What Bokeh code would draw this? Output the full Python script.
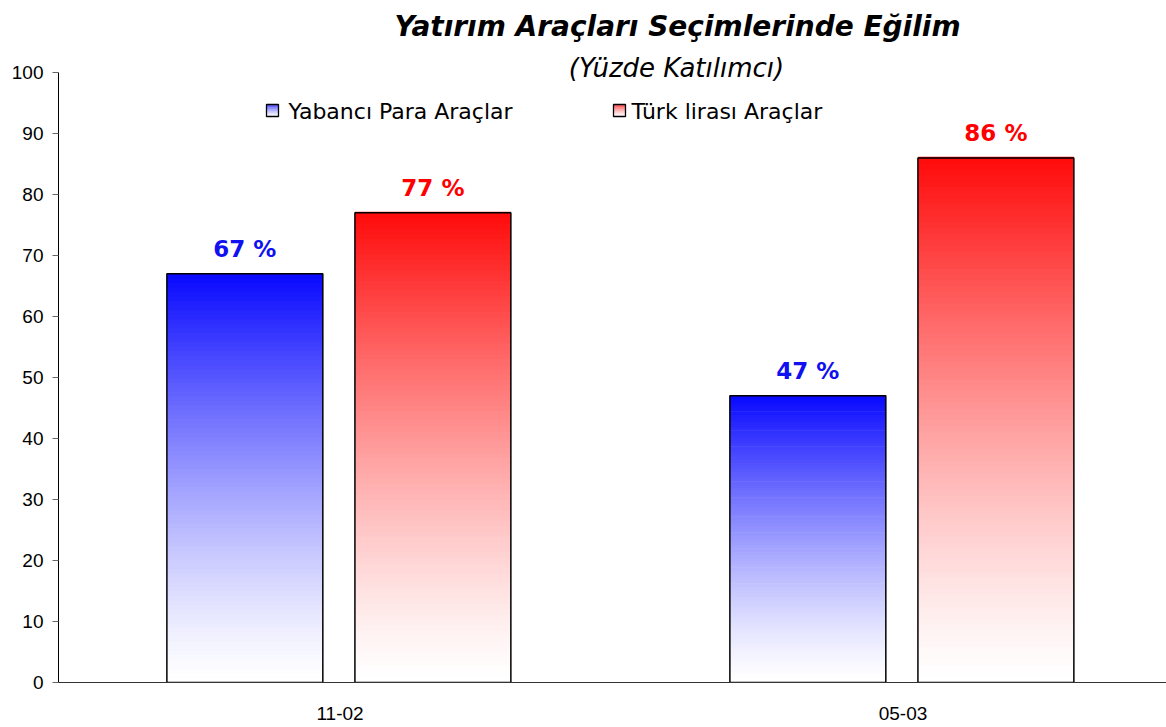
import numpy as np
from bokeh.plotting import figure
from bokeh.models import Range1d, FixedTicker, Label, ColumnDataSource
from bokeh.core.properties import value
from bokeh.embed import file_html
from bokeh.resources import INLINE

# ---------------- data ----------------
categories = ["11-02", "05-03"]
series_names = ["Yabancı Para Araçlar", "Türk lirası Araçlar"]
yabanci = [67, 47]
turk = [77, 86]
y_ticks = [0, 10, 20, 30, 40, 50, 60, 70, 80, 90, 100]
title_text = "Yatırım Araçları Seçimlerinde Eğilim"
subtitle_text = "(Yüzde Katılımcı)"

# ---------------- layout ----------------
W, H = 1166, 727
BL, BR, BT, BB = 58, 0, 0, 45
frame_w = W - BL - BR
frame_h = H - BT - BB          # frame spans to the top; y axis bounded to 0..100
CAT_PX = 563.0
PX_PER_UNIT = 6.1
x_end = frame_w / CAT_PX
y_end = frame_h / PX_PER_UNIT
FRAME_BOTTOM = BT + frame_h


def px_x(page_x):
    return (page_x - BL) / CAT_PX


def px_y(page_y):
    return (FRAME_BOTTOM - page_y) / PX_PER_UNIT


p = figure(width=W, height=H, output_backend="svg", toolbar_location=None,
           x_range=Range1d(0, x_end), y_range=Range1d(0, y_end),
           min_border_left=BL, min_border_right=BR, min_border_top=BT,
           min_border_bottom=BB)
p.outline_line_color = None
p.xgrid.visible = False
p.ygrid.visible = False
p.background_fill_color = "white"
p.border_fill_color = "white"

BLUE = (8, 8, 255)
RED = (255, 10, 10)
N = 90
GAMMA = 1.3


def blend(rgb, f):
    return "#%02x%02x%02x" % tuple(int(round(255 + (c - 255) * f)) for c in rgb)


def add_gradient_bars(xcs, width, bottoms, tops, rgb, outline=True, lw=1.5):
    L, R, B, T, C = [], [], [], [], []
    for xc, b0, t0 in zip(xcs, bottoms, tops):
        for k in range(N):
            L.append(xc - width / 2)
            R.append(xc + width / 2)
            B.append(b0 + (t0 - b0) * k / N)
            T.append(b0 + (t0 - b0) * (k + 1) / N + (t0 - b0) * 0.002)
            C.append(blend(rgb, ((k + 0.5) / N) ** GAMMA))
    p.quad(left=L, right=R, bottom=B, top=T, fill_color=C, line_color=None)
    if outline:
        p.quad(left=[x - width / 2 for x in xcs], right=[x + width / 2 for x in xcs],
               bottom=bottoms, top=tops, fill_color=None, line_color="black",
               line_width=lw)


BAR_W = 0.277
OFF_B, OFF_R = -0.169, 0.165
idx = np.arange(len(categories)) + 0.5
xb = list(idx + OFF_B)
xr = list(idx + OFF_R)

add_gradient_bars(xb, BAR_W, [0] * len(yabanci), yabanci, BLUE)
add_gradient_bars(xr, BAR_W, [0] * len(turk), turk, RED)

# value labels
for xs, vals, col in ((xb, yabanci, "#1010f0"), (xr, turk, "#ff0000")):
    src = ColumnDataSource(dict(x=xs, y=vals, t=["%d %%" % v for v in vals]))
    p.text(x="x", y="y", text="t", source=src, text_align="center",
           text_baseline="alphabetic", y_offset=-25,
           text_font=value("DejaVu Sans"), text_font_style="bold",
           text_font_size="23px", text_color=col)

# axes
p.yaxis.ticker = FixedTicker(ticks=y_ticks)
p.yaxis.bounds = (0, 100)
p.yaxis.minor_tick_line_color = None
p.yaxis.major_tick_in = 0
p.yaxis.major_tick_out = 6
p.yaxis.major_tick_line_color = "#666666"
p.yaxis.axis_line_color = "black"
p.yaxis.major_label_text_font = "Liberation Sans"
p.yaxis.major_label_text_font_size = "19px"
p.yaxis.major_label_text_color = "black"
p.yaxis.major_label_standoff = 9

p.xaxis.ticker = FixedTicker(ticks=list(idx))
p.xaxis.major_label_overrides = {float(v): c for v, c in zip(idx, categories)}
p.xaxis.minor_tick_line_color = None
p.xaxis.major_tick_line_color = None
p.xaxis.major_tick_in = 0
p.xaxis.major_tick_out = 0
p.xaxis.axis_line_color = "#333333"
p.xaxis.axis_line_width = 1.2
p.xaxis.major_label_text_font = "Liberation Sans"
p.xaxis.major_label_text_font_size = "19px"
p.xaxis.major_label_text_color = "black"
p.xaxis.major_label_standoff = 24

# title & subtitle
p.add_layout(Label(x=px_x(677), y=px_y(26), text=title_text, text_align="center",
                   text_baseline="middle", text_font="DejaVu Sans",
                   text_font_style="bold italic", text_font_size="28px",
                   text_color="black"))
p.add_layout(Label(x=px_x(676), y=px_y(67), text=subtitle_text, text_align="center",
                   text_baseline="middle", text_font="DejaVu Sans",
                   text_font_style="italic", text_font_size="26px",
                   text_color="black"))

# custom legend with gradient squares
leg_y_top, leg_y_bot = px_y(104), px_y(116)
for (sx, tx, name, rgb) in ((266, 288, series_names[0], BLUE),
                            (613, 631, series_names[1], RED)):
    sq_w = px_x(sx + 12) - px_x(sx)
    add_gradient_bars([px_x(sx) + sq_w / 2], sq_w, [leg_y_bot], [leg_y_top], rgb,
                      outline=True, lw=1.3)
    p.add_layout(Label(x=px_x(tx), y=px_y(111), text=name, text_align="left",
                       text_baseline="middle", text_font="DejaVu Sans",
                       text_font_size="22px", text_color="black"))

open("out.html", "w").write(file_html(p, INLINE))
